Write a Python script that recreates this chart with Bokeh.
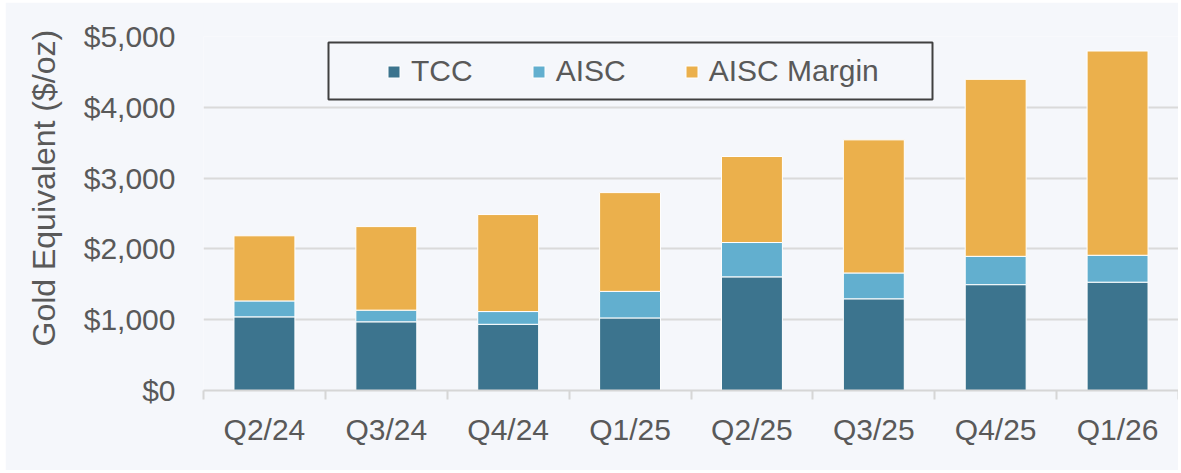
import math
from bokeh.plotting import figure
from bokeh.models import (ColumnDataSource, FixedTicker, NumeralTickFormatter, Range1d,
                          Legend, LegendItem, BoxAnnotation, Title)
from bokeh.embed import file_html
from bokeh.resources import INLINE

quarters = ["Q2/24", "Q3/24", "Q4/24", "Q1/25", "Q2/25", "Q3/25", "Q4/25", "Q1/26"]
tcc = [1040, 970, 935, 1025, 1605, 1295, 1495, 1530]
aisc = [1265, 1135, 1115, 1400, 2090, 1660, 1895, 1910]
price = [2185, 2315, 2485, 2795, 3305, 3540, 4395, 4795]
y_ticks = [0, 1000, 2000, 3000, 4000, 5000]
series = ["TCC", "AISC", "AISC Margin"]
colors = ["#3C748E", "#62AFCF", "#EBB04C"]

FONT = "Liberation Sans"
TXT = "#595959"
BG = "#F5F7FB"

n = len(quarters)
xs = [i + 0.5 for i in range(n)]
src = ColumnDataSource(dict(
    x=xs, q=quarters,
    tcc=tcc,
    aisc_add=[a - t for a, t in zip(aisc, tcc)],
    margin=[p_ - a for p_, a in zip(price, aisc)],
))

p = figure(width=1173, height=468, output_backend="svg", toolbar_location=None,
           x_range=Range1d(0, n), y_range=Range1d(0, y_ticks[-1]),
           min_border_left=193, min_border_right=0, min_border_top=34, min_border_bottom=80)
p.margin = (2, 0, 0, 5)
p.background_fill_color = BG
p.border_fill_color = BG
p.outline_line_color = None

rs = p.vbar_stack(["tcc", "aisc_add", "margin"], x="x", width=0.5, source=src,
                  color=colors, line_color="white", line_width=1)

# axes
p.xaxis.ticker = FixedTicker(ticks=xs, minor_ticks=list(range(n + 1)))
p.xaxis.major_label_overrides = {xv: q for xv, q in zip(xs, quarters)}
p.xaxis.major_tick_out = 0
p.xaxis.major_tick_in = 0
p.xaxis.minor_tick_out = 9
p.xaxis.minor_tick_in = 0
p.xaxis.minor_tick_line_color = "#D6D6D6"
p.xaxis.minor_tick_line_width = 2
p.xaxis.axis_line_color = "#D6D6D6"
p.xaxis.axis_line_width = 2
p.xaxis.major_label_text_font = FONT
p.xaxis.major_label_text_font_size = "30px"
p.xaxis.major_label_text_color = TXT
p.xaxis.major_label_standoff = 13

p.yaxis.ticker = FixedTicker(ticks=y_ticks)
p.yaxis.formatter = NumeralTickFormatter(format="$0,0")
p.yaxis.axis_line_color = None
p.yaxis.major_tick_line_color = None
p.yaxis.minor_tick_line_color = None
p.yaxis.major_tick_out = 0
p.yaxis.major_label_text_font = FONT
p.yaxis.major_label_text_font_size = "30px"
p.yaxis.major_label_text_color = TXT
p.yaxis.major_label_standoff = 28

p.xgrid.visible = False
p.ygrid.ticker = FixedTicker(ticks=y_ticks)
p.ygrid.grid_line_color = "#DADADA"
p.ygrid.grid_line_width = 2

# y axis title
p.add_layout(Title(text="Gold Equivalent ($/oz)", align="left", offset=44,
                   standoff=37, text_font=FONT, text_font_size="32px",
                   text_font_style="normal", text_color=TXT), "left")

# legend frame
p.add_layout(BoxAnnotation(left=125, right=729, top=348, bottom=291,
                           left_units="screen", right_units="screen",
                           top_units="screen", bottom_units="screen",
                           fill_alpha=0, line_color="#404040", line_alpha=1.0,
                           line_width=2))

legend = Legend(items=[LegendItem(label=s, renderers=[r]) for s, r in zip(series, rs)],
                orientation="horizontal", location=(183, 302), padding=0, spacing=58,
                glyph_width=15, glyph_height=15, label_standoff=10,
                label_text_font=FONT, label_text_font_size="30px", label_text_color=TXT,
                border_line_color=None, background_fill_alpha=0)
p.add_layout(legend)

open("out.html", "w").write(file_html(p, INLINE))
